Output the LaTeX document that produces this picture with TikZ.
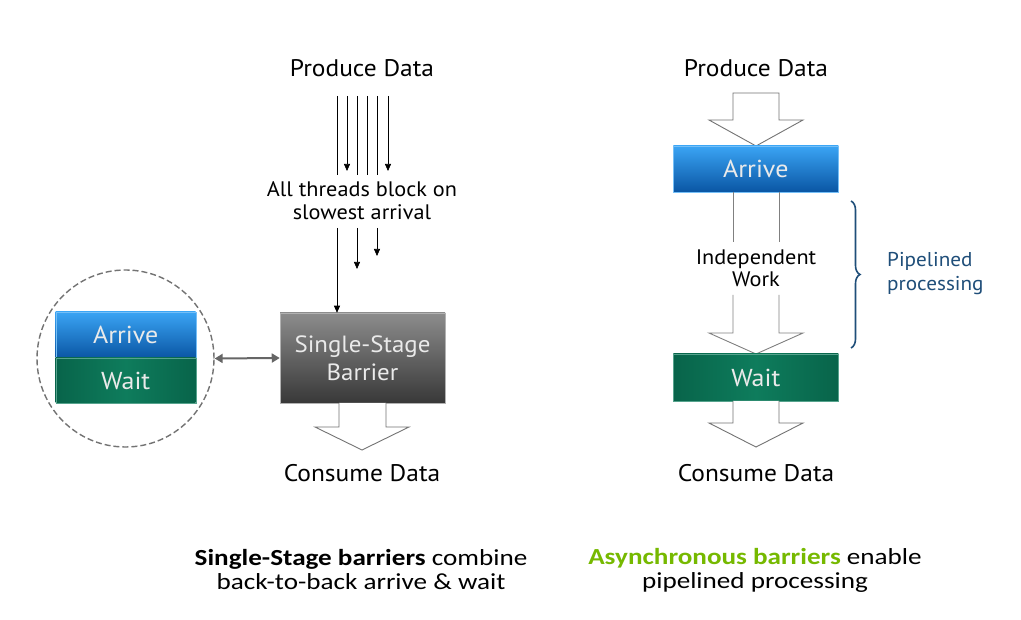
\documentclass[tikz,border=0pt]{standalone}
\usepackage{fontspec}
\setmainfont[FakeStretch=1.06]{PT Sans}
\newfontfamily\calib[FakeStretch=1.18]{Carlito}
\usetikzlibrary{arrows.meta,decorations.pathreplacing,calc}
\definecolor{nvgreen}{HTML}{76B900}
\definecolor{bracecol}{HTML}{1F4E79}
\definecolor{blueTop}{HTML}{3AA4F4}
\definecolor{blueBot}{HTML}{0A56A4}
\definecolor{greenEdge}{HTML}{08644A}
\definecolor{greenMid}{HTML}{0E7C5C}
\definecolor{txtlight}{HTML}{EAEAEA}
\begin{document}
\begin{tikzpicture}[x=1pt,y=-1pt,
  lbl/.style={font=\fontsize{24}{24}\selectfont, text=black, inner sep=0, align=center},
  smalllbl/.style={font=\fontsize{21}{23}\selectfont, text=black, inner sep=0, align=center},
  boxtxt/.style={font=\fontsize{24.5}{28}\selectfont, text=txtlight, inner sep=0, align=center},
  arrivebox/.style={top color=blueTop, bottom color=blueBot, draw=blueTop!70!white, line width=0.4pt},
  waitbox/.style={left color=greenEdge, right color=greenEdge, middle color=greenMid, draw=greenMid!70!white, line width=0.4pt},
  thread/.style={line width=0.7pt, draw=black},
  threadarrow/.style={thread, -{Triangle[length=7pt,width=6pt]}},
  blockarrow/.style={draw=black!55, line width=0.9pt, fill=white, line join=miter},
  midarrow/.style={draw=black!50, line width=0.9pt},
  bottomtxt/.style={font=\calib\fontsize{23}{24}\selectfont, inner sep=0, align=center}
]
\useasboundingbox (0,0) rectangle (1021,620);
\fill[white] (0,0) rectangle (1021,620);

% ---------------- Left side ----------------
\node[lbl] (produceL) at (362,68) {Produce Data};
\node[smalllbl] (blockL) at (362,201) {All threads block on\\slowest arrival};

% thread lines above label
\foreach \x/\n in {337/a,347/b,357/c,367/d,377/e,388/f}{
  \coordinate (t\n) at (\x,96);
}
\coordinate (e_a) at (337,175);
\coordinate (e_b) at (347,171);
\coordinate (e_c) at (357,175);
\coordinate (e_d) at (367,175);
\coordinate (e_e) at (377,175);
\coordinate (e_f) at (388,171);
\draw[thread] (ta) -- (e_a);
\draw[threadarrow] (tb) -- (e_b);
\draw[thread] (tc) -- (e_c);
\draw[thread] (td) -- (e_d);
\draw[thread] (te) -- (e_e);
\draw[threadarrow] (tf) -- (e_f);

% barrier box
\node[minimum width=165, minimum height=90, top color=black!45, bottom color=black!78, draw=black!30, line width=0.5pt, inner sep=0] (barrier) at (362.5,358) {};
\node[boxtxt, font=\fontsize{23.5}{28}\selectfont] (barriertxt) at (barrier.center) {Single-Stage\\Barrier};

% thread lines below label
\coordinate (s_a) at (337,228);
\coordinate (s_c) at (357,228);
\coordinate (s_e) at (377,228);
\coordinate (m_c) at (357,269);
\coordinate (m_e) at (377,256);
\draw[threadarrow] (s_a) -- (barrier.north -| s_a);
\draw[threadarrow] (s_c) -- (m_c);
\draw[threadarrow] (s_e) -- (m_e);

% block arrow below barrier
\draw[blockarrow] (339,403) -- (339,427) -- (315,427) -- (362,450) -- (409,427) -- (386,427) -- (386,403);
\node[lbl] (consumeL) at (362,473) {Consume Data};

% circle with arrive / wait
\node[circle, draw=black!55, dashed, dash pattern=on 6pt off 3pt, line width=1.4pt, minimum size=177, inner sep=0] (circ) at (125.5,358.5) {};
\node[arrivebox, minimum width=140, minimum height=46, inner sep=0] (arriveL) at (125.7,335) {};
\node[boxtxt] at (arriveL.center) {Arrive};
\node[waitbox, minimum width=140, minimum height=45, inner sep=0] (waitL) at (125.7,380.5) {};
\node[boxtxt] at (waitL.center) {Wait};

\draw[draw=black!60, line width=2pt, {Triangle[length=8pt,width=9pt]}-{Triangle[length=8pt,width=9pt]}] (circ.east) -- (barrier.west);

% ---------------- Right side ----------------
\node[lbl] (produceR) at (756,68) {Produce Data};
\draw[blockarrow] (733,93) -- (733,120) -- (709,120) -- (756,146) -- (803,120) -- (779,120) -- (779,93) -- cycle;

\node[arrivebox, minimum width=165, minimum height=46, inner sep=0] (arriveR) at (755.8,169) {};
\node[boxtxt] at (arriveR.center) {Arrive};

\node[smalllbl, font=\fontsize{21}{22}\selectfont] (indep) at (756,268) {Independent\\Work};
\draw[midarrow] (733,192) -- (733,242);
\draw[midarrow] (779,192) -- (779,242);
\draw[midarrow, line join=miter] (733,295) -- (733,333) -- (709,333) -- (756,354) -- (803,333) -- (779,333) -- (779,295);

\node[waitbox, minimum width=165, minimum height=47, inner sep=0] (waitR) at (755.8,377.5) {};
\node[boxtxt] at (waitR.center) {Wait};

\draw[blockarrow] (733,401) -- (733,423) -- (709,423) -- (756,447) -- (803,423) -- (779,423) -- (779,401);
\node[lbl] (consumeR) at (756,473) {Consume Data};

% brace
\coordinate (bt) at (851,201);
\coordinate (bb) at (851,348);
\draw[bracecol, line width=1.6pt, decorate, decoration={brace, amplitude=9pt}] (bt) -- (bb);
\node[font=\fontsize{20}{24}\selectfont, text=bracecol, inner sep=0, align=left, anchor=west] (pipe) at (887,274) {Pipelined\\processing};

% ---------------- Bottom captions ----------------
\node[bottomtxt] (capL) at (361,570) {\textbf{Single-Stage barriers} combine\\back-to-back arrive \& wait};
\node[bottomtxt] (capR) at (755,570) {\textcolor{nvgreen}{\textbf{Asynchronous barriers}} enable\\pipelined processing};
\end{tikzpicture}
\end{document}
